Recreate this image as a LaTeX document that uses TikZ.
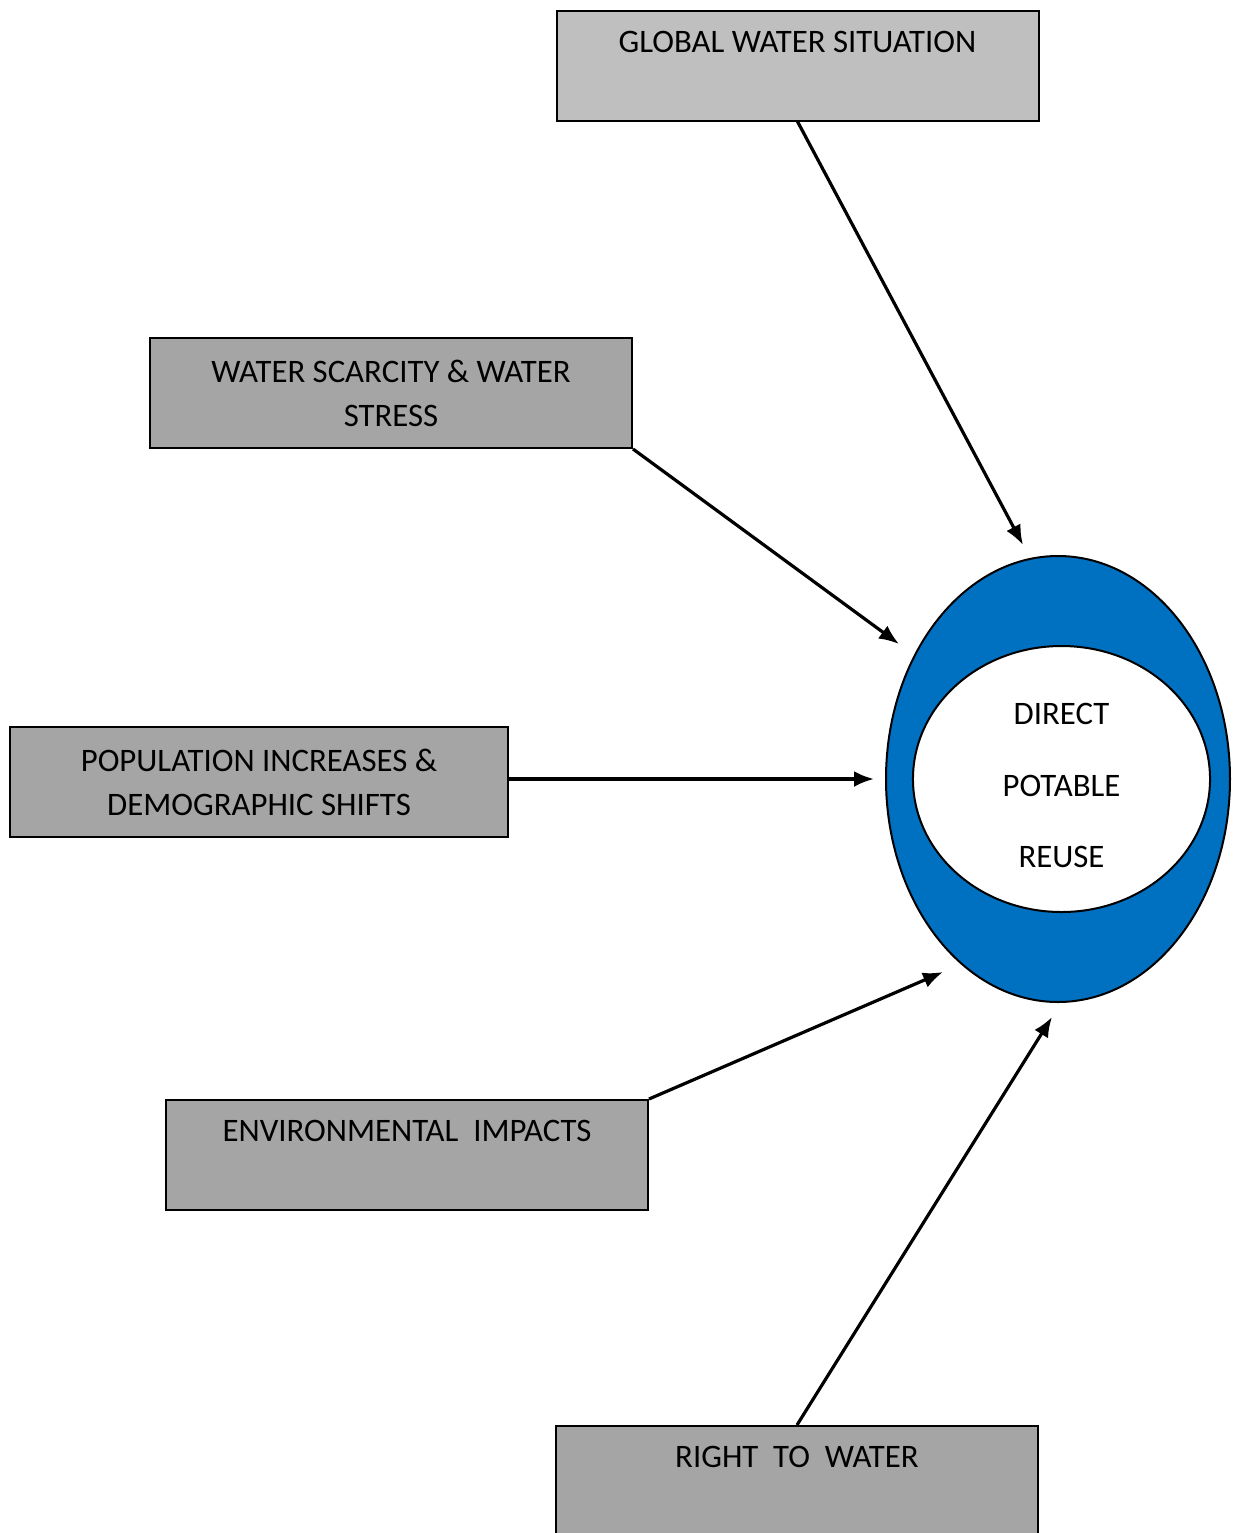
\documentclass[tikz,border=0pt]{standalone}
\usepackage{fontspec}
\setmainfont{Carlito}
\usepackage{tikz}
\usetikzlibrary{arrows.meta}
\usetikzlibrary{shapes.geometric}
\usetikzlibrary{positioning}
\definecolor{boxgray}{HTML}{A5A5A5}
\definecolor{topgray}{HTML}{BFBFBF}
\definecolor{reuseblue}{HTML}{0070C0}
\tikzset{>=latex}
\tikzstyle{factor} = [rectangle, draw=black, line width=0.75pt, fill=boxgray, minimum width=180.75pt, minimum height=41.25pt, align=center, inner sep=0pt, font=\fontsize{12.3}{16.5}\selectfont]
\tikzstyle{push} = [-{Latex[length=7.5pt,width=6pt]}, draw=black, line width=1.2pt]

\begin{document}
\begin{tikzpicture}[x=0.375pt, y=-0.375pt]
\useasboundingbox (0, 0) rectangle (1233, 1533);
\node [factor, fill=topgray] (global) at (797.5, 65.5) {GLOBAL WATER SITUATION\\[-3.5pt]\strut};
\node [factor] (scarcity) at (391, 393) {WATER SCARCITY \& WATER\\STRESS};
\node [factor, minimum width=186.75pt] (pop) at (259, 782) {POPULATION INCREASES \&\\DEMOGRAPHIC SHIFTS};
\node [factor] (env) at (407, 1155) {ENVIRONMENTAL\ \ IMPACTS\\[-3.5pt]\strut};
\node [factor] (right) at (797, 1481) {RIGHT\ \ TO\ \ WATER\\[-3.5pt]\strut};
\node [ellipse, draw=black, line width=0.75pt, fill=reuseblue, minimum width=129pt, minimum height=167.25pt, inner sep=0pt] (outer) at (1058, 779) {};
\node [ellipse, draw=black, line width=0.75pt, fill=white, minimum width=111.4pt, minimum height=99.75pt, inner sep=0pt, label={[align=center, yshift=-2.5pt, font=\fontsize{12.3}{26.8}\selectfont]center:DIRECT\\POTABLE\\REUSE}] (dpr) at (1061.5, 779) {};
\coordinate (tip1) at (1023, 545);
\coordinate (tip2) at (899, 644);
\coordinate (tip3) at (874, 779);
\coordinate (tip4) at (943, 972);
\coordinate (tip5) at (1052, 1017);
\draw [push] (global.south) to (tip1);
\draw [push] (scarcity.south east) to (tip2);
\draw [push] (pop.east |- tip3) to (tip3);
\draw [push] (env.north east) to (tip4);
\draw [push] (right.north) to (tip5);
\end{tikzpicture}
\end{document}
